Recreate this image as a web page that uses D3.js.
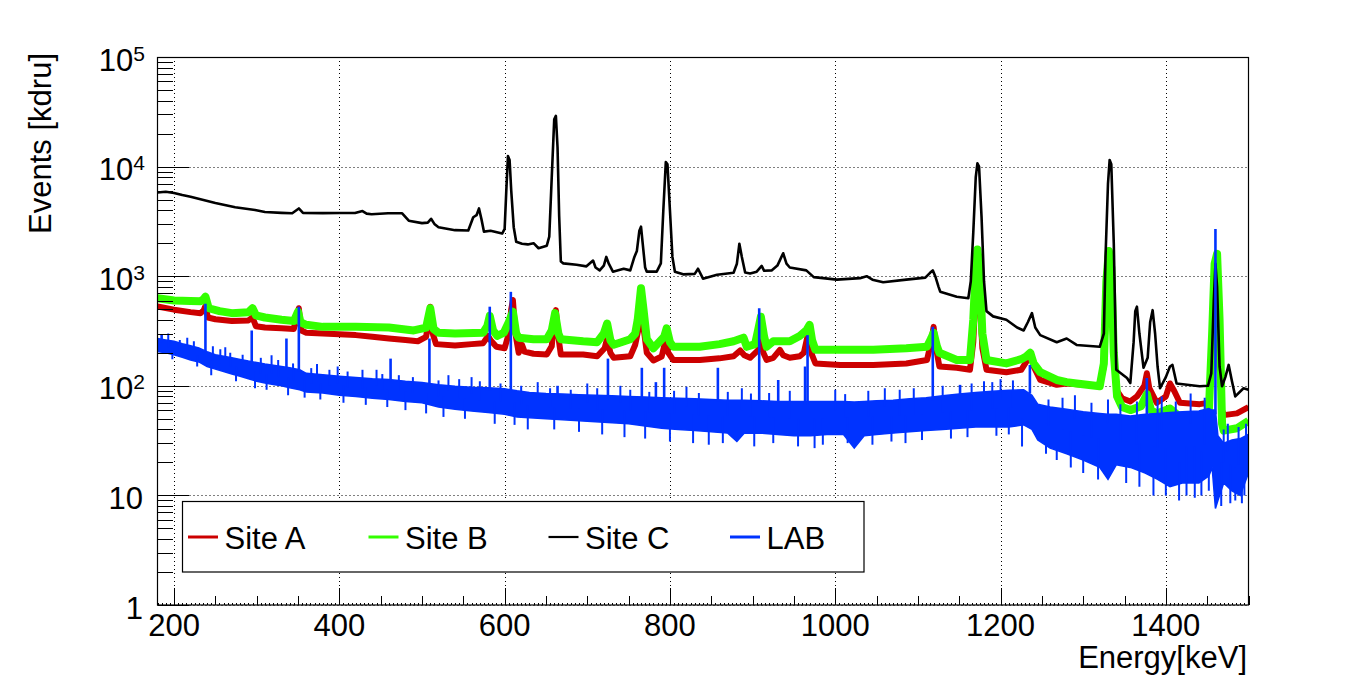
<!DOCTYPE html>
<html><head><meta charset="utf-8">
<script src="https://cdn.jsdelivr.net/npm/d3@7"></script>
<style>body{margin:0;background:#fff} text{font-family:"Liberation Sans",Arial,Helvetica,sans-serif;fill:#000}</style>
</head><body><svg id="c" width="1364" height="686"></svg>
<script>
// ---------------- data ----------------
const seriesNames = ["Site A", "Site B", "Site C", "LAB"];
const xTickValues = [200, 400, 600, 800, 1000, 1200, 1400];
const yTickExponents = [0, 1, 2, 3, 4, 5];
const xTitle = "Energy[keV]";
const yTitle = "Events [kdru]";

// Site A: [energy keV, events]
const siteA = [[180,530],[200,495],[220,470],[232,460],[236,490],[238,535],[241,420],[250,405],[270,390],[290,395],[295,420],[299,350],[310,340],[330,335],[345,330],[348,420],[351,510],[354,320],[360,305],[380,300],[400,295],[420,290],[440,280],[460,270],[480,262],[495,255],[505,280],[508,400],[510,527],[513,300],[517,240],[540,233],[560,240],[574,245],[580,285],[583,260],[590,227],[600,220],[605,300],[608,500],[610,607],[613,300],[617,200],[621,237],[624,205],[635,196],[651,193],[657,230],[660,400],[662,490],[665,280],[668,193],[695,193],[712,186],[721,220],[724,270],[728,200],[732,180],[752,186],[758,237],[762,330],[766,435],[769,300],[772,200],[780,170],[790,185],[795,266],[798,200],[804,172],[836,172],[860,178],[877,186],[885,210],[890,190],[897,180],[907,213],[910,319],[913,200],[917,172],[925,180],[933,213],[937,190],[945,180],[957,186],[962,200],[968,319],[972,190],[976,160],[1006,155],[1046,155],[1086,160],[1111,172],[1116,250],[1119,345],[1122,220],[1126,150],[1147,146],[1163,140],[1167,250],[1170,700],[1172,1000],[1175,600],[1178,220],[1183,140],[1207,133],[1225,140],[1232,170],[1236,200],[1240,150],[1248,113],[1268,102],[1280,105],[1320,100],[1325,150],[1328,600],[1331,1000],[1334,700],[1337,200],[1341,90],[1347,77],[1357,72],[1365,80],[1374,100],[1377,130],[1380,95],[1389,70],[1400,80],[1405,105],[1410,90],[1417,70],[1441,68],[1452,70],[1456,200],[1459,1100],[1462,900],[1465,150],[1468,60],[1470,54],[1486,56],[1500,64]];

// Site B: [energy keV, events]
const siteB = [[180,630],[200,600],[220,595],[232,590],[236,620],[238,650],[242,510],[255,480],[270,460],[290,470],[295,510],[299,440],[310,420],[330,400],[345,390],[350,475],[353,380],[360,360],[380,345],[420,345],[460,340],[490,320],[505,340],[510,510],[514,330],[520,305],[540,300],[574,305],[579,350],[582,435],[586,320],[591,285],[599,305],[605,380],[610,475],[614,300],[617,275],[635,266],[651,266],[657,320],[661,460],[665,300],[668,266],[695,255],[712,250],[720,300],[724,370],[728,260],[732,237],[752,266],[758,300],[761,400],[765,776],[768,500],[772,266],[780,220],[793,280],[796,335],[800,250],[804,227],[836,227],[860,240],[877,255],[889,275],[893,227],[903,240],[907,330],[910,427],[914,280],[917,227],[925,255],[945,255],[957,285],[965,320],[969,360],[972,260],[976,213],[1006,213],[1046,213],[1086,220],[1111,227],[1116,270],[1119,305],[1123,230],[1126,200],[1147,172],[1163,172],[1167,400],[1170,1200],[1172,1750],[1175,1100],[1178,300],[1183,172],[1207,160],[1225,175],[1231,185],[1236,200],[1240,160],[1248,133],[1268,113],[1280,108],[1292,105],[1320,99],[1325,160],[1328,900],[1331,1700],[1334,1200],[1337,200],[1341,80],[1347,64],[1357,60],[1370,65],[1377,84],[1382,60],[1389,56],[1405,62],[1417,52],[1441,54],[1452,58],[1456,300],[1459,1300],[1462,1600],[1465,400],[1468,45],[1470,39],[1486,41],[1500,48]];

// Site C: [energy keV, events]
const siteC = [[180,5800],[190,5900],[200,5750],[210,5500],[220,5300],[238,4900],[250,4650],[274,4250],[298,4020],[310,3850],[330,3780],[343,3750],[351,4150],[356,3780],[380,3760],[400,3770],[419,3770],[428,3930],[433,3720],[439,3680],[459,3750],[476,3750],[484,3210],[500,3050],[507,3080],[511,3340],[515,3000],[520,2800],[540,2630],[556,2610],[562,3450],[566,3600],[569,4150],[572,3300],[575,2550],[583,2600],[597,2450],[600,2700],[602,6000],[604,12500],[606,11500],[608,6000],[611,2800],[614,2065],[621,1980],[628,1950],[635,2000],[641,1800],[651,1900],[654,2300],[657,8000],[660,27000],[662,29000],[664,15000],[666,3500],[668,1360],[671,1310],[687,1270],[699,1230],[707,1390],[710,1200],[715,1130],[720,1250],[723,1500],[726,1300],[731,1100],[744,1170],[752,1130],[757,1500],[760,1700],[763,2600],[765,2830],[767,2000],[770,1200],[772,1100],[784,1100],[789,1310],[792,4000],[795,11000],[797,10500],[800,4000],[803,1500],[806,1100],[816,1040],[830,1050],[834,1170],[840,950],[857,1030],[877,1075],[881,1300],[884,1980],[887,1500],[891,1080],[897,1060],[905,1100],[911,1240],[914,1120],[923,1130],[930,1250],[937,1620],[941,1300],[945,1200],[965,1130],[974,980],[1002,930],[1030,960],[1038,1000],[1045,930],[1058,880],[1086,930],[1109,970],[1115,1080],[1118,1130],[1121,1000],[1125,800],[1127,722],[1147,650],[1161,630],[1164,900],[1167,2500],[1170,8000],[1172,10700],[1174,10000],[1177,3500],[1180,900],[1183,480],[1191,430],[1207,400],[1220,340],[1228,320],[1233,380],[1238,460],[1242,340],[1248,290],[1268,250],[1280,270],[1292,236],[1320,227],[1325,300],[1327,1500],[1330,7000],[1332,11500],[1334,10500],[1337,2000],[1340,140],[1353,118],[1357,106],[1361,250],[1363,480],[1365,527],[1368,300],[1373,146],[1378,180],[1381,380],[1384,490],[1387,300],[1390,150],[1393,95],[1400,120],[1405,150],[1408,155],[1413,105],[1441,99],[1451,100],[1455,130],[1458,600],[1460,1300],[1462,800],[1465,150],[1468,99],[1472,120],[1476,155],[1480,110],[1484,80],[1494,95],[1500,92]];

// LAB noise band: [energy keV, low, high]
const labBand = [[180,205,270],[190,200,262],[200,192,255],[210,182,242],[220,172,232],[230,165,222],[240,150,205],[250,142,192],[260,135,186],[270,128,180],[280,122,174],[290,116,168],[300,110,163],[310,106,158],[320,103,154],[330,100,150],[340,96,146],[352,92,140],[360,88,130],[380,86,126],[400,82,122],[420,80,119],[440,77,116],[460,75,114],[480,72,110],[500,70,107],[520,64,102],[540,61,99],[560,59,97],[580,57,96],[600,55,94],[615,52,90],[630,51,87],[650,50,85],[670,49,84],[690,48,83],[710,47,82],[730,46,81],[750,45,80],[770,43,79],[790,41,78],[810,40,77],[830,39,76],[850,38,75],[870,37,74],[881,31,74],[890,37,74],[910,37,73],[930,36,72],[950,35,72],[970,35,72],[990,36,72],[1010,36,72],[1023,27,71],[1035,35,72],[1050,36,73],[1070,37,74],[1090,38,76],[1110,39,78],[1130,40,81],[1150,41,84],[1170,42,87],[1190,42,89],[1210,42,91],[1228,44,92],[1238,40,82],[1245,32,68],[1260,27,64],[1280,24,61],[1300,21,58],[1320,18,56],[1330,14,55],[1340,19,55],[1357,18,53],[1375,16,55],[1390,14,56],[1405,12,57],[1420,13,58],[1440,13,59],[1452,15,62],[1456,18,60],[1460,7.6,60],[1463,9,35],[1470,13,30],[1480,11,32],[1490,10,33],[1500,16,36]];

// LAB narrow lines: [energy keV, bottom, top]
const labSpikes = [[185,250,290],[238,200,560],[294,160,320],[336,140,270],[351,135,527],[462,110,177],[509,105,270],[582,90,527],[607.5,90,720],[664,80,100],[725,78,177],[766,76,146],[783,76,108],[793,75,146],[858,72,146],[908,70,510],[931,70,113],[963.5,68,150],[966.5,68,290],[1118,74,345],[1151,78,102],[1235.5,85,155],[1377,50,118],[1460,55,2700]];

// LAB bin-to-bin fluctuations beyond the band: [energy keV, bottom, top]
const labFluct = [[193,225,300],[198,175,220],[207,210,262],[216,215,275],[224,195,255],[228,150,190],[245,125,170],[247,170,230],[256,160,215],[262,165,225],[268,150,200],[275,110,150],[283,140,192],[298,95,135],[305,130,180],[312,92,130],[318,130,190],[326,120,172],[338,82,118],[344,112,160],[358,78,112],[366,105,145],[373,110,158],[377,75,105],[388,100,140],[398,105,150],[405,70,100],[410,97,135],[428,95,140],[432,67,96],[445,100,140],[452,92,128],[458,64,92],[472,88,125],[480,60,88],[489,86,120],[505,56,86],[520,80,112],[526,52,80],[532,90,125],[545,77,115],[552,50,77],[560,85,120],[570,73,110],[588,45,72],[595,72,105],[612,44,70],[620,68,100],[628,40,66],[640,75,108],[655,64,95],[660,40,64],[680,62,92],[690,38,62],[700,70,105],[712,61,95],[718,36,61],[740,70,100],[745,34,59],[752,59,92],[770,33,58],[775,57,88],[800,31,56],[805,55,90],[820,65,98],[828,30,55],[835,54,86],[847,29,54],[864,30,53],[870,53,88],[887,60,95],[898,52,85],[902,28,52],[920,51,86],[925,30,51],[945,50,90],[955,28,50],[975,27,50],[985,29,50],[1000,60,92],[1012,51,84],[1015,30,51],[1040,52,90],[1045,29,52],[1060,65,95],[1068,31,53],[1078,54,92],[1085,30,54],[1095,55,95],[1105,32,55],[1130,57,100],[1140,33,58],[1160,34,60],[1165,60,105],[1180,75,110],[1190,62,108],[1195,35,62],[1200,75,115],[1210,36,63],[1215,63,112],[1226,28,50],[1255,24,45],[1258,43,75],[1268,21,42],[1275,40,78],[1285,18,38],[1290,50,82],[1300,16,35],[1310,34,70],[1318,14,33],[1330,45,75],[1345,30,68],[1352,13,31],[1365,29,72],[1368,12,30],[1385,10,28],[1390,27,75],[1395,40,80],[1400,10,27],[1412,27,72],[1416,9,20],[1425,10,28],[1430,45,85],[1435,9.5,28],[1443,10,25],[1447,29,78],[1452,11,30],[1467,8,20],[1470,20,40],[1475,25,45],[1478,8.5,19],[1484,9,18],[1488,19,42],[1492,8.5,18],[1495,10,22],[1497,20,45]];

// ---------------- drawing ----------------
const W = 1364, H = 686;
const L = 157.5, R = 1248.5, T = 57, B = 605;
const svg = d3.select("#c");
svg.append("rect").attr("width", W).attr("height", H).attr("fill", "#fff");

const x = d3.scaleLinear().domain([180, 1500]).range([L, R]);
const y = d3.scaleLog().domain([1, 1e5]).range([B, T]);
const cx = v => Math.round(x(v)) + 0.5;
const cy = v => Math.round(y(v)) + 0.5;

const colors = { "Site A": "#cc0000", "Site B": "#33ff00", "Site C": "#000000", "LAB": "#0033ff" };

// grid
const grid = svg.append("g").attr("stroke", "#000").attr("stroke-width", 1).attr("stroke-dasharray", "1,3");
grid.selectAll("line.gx").data(xTickValues).join("line").attr("class", "gx")
  .attr("x1", d => cx(d)).attr("x2", d => cx(d)).attr("y1", T).attr("y2", B);
grid.selectAll("line.gy").data(yTickExponents.map(e => Math.pow(10, e))).join("line").attr("class", "gy")
  .attr("x1", L).attr("x2", R).attr("y1", d => cy(d)).attr("y2", d => cy(d));

// data
svg.append("defs").append("clipPath").attr("id", "clip")
  .append("rect").attr("x", L).attr("y", T).attr("width", R - L).attr("height", B - T);
const plot = svg.append("g").attr("clip-path", "url(#clip)");

const line = d3.line().x(d => x(d[0])).y(d => y(d[1]));
plot.append("path").datum(siteA).attr("d", line).attr("fill", "none")
  .attr("stroke", colors["Site A"]).attr("stroke-width", 6).attr("stroke-linejoin", "round");
plot.append("path").datum(siteB).attr("d", line).attr("fill", "none")
  .attr("stroke", colors["Site B"]).attr("stroke-width", 8).attr("stroke-linejoin", "round");
plot.append("path").datum(siteC).attr("d", line).attr("fill", "none")
  .attr("stroke", colors["Site C"]).attr("stroke-width", 2.6).attr("stroke-linejoin", "round");

const band = d3.area().x(d => x(d[0])).y0(d => y(d[1])).y1(d => y(d[2]));
plot.append("path").datum(labBand).attr("d", band)
  .attr("fill", colors["LAB"]).attr("stroke", colors["LAB"]).attr("stroke-width", 1.5);
plot.append("g").selectAll("line").data(labFluct).join("line")
  .attr("x1", d => x(d[0])).attr("x2", d => x(d[0]))
  .attr("y1", d => y(d[1])).attr("y2", d => y(d[2]))
  .attr("stroke", colors["LAB"]).attr("stroke-width", 2);
plot.append("g").selectAll("line").data(labSpikes).join("line")
  .attr("x1", d => x(d[0])).attr("x2", d => x(d[0]))
  .attr("y1", d => y(d[1])).attr("y2", d => y(d[2]))
  .attr("stroke", colors["LAB"]).attr("stroke-width", 2.6);

// frame
svg.append("rect").attr("x", L).attr("y", T + 0.5).attr("width", R - L).attr("height", B - T - 0.5)
  .attr("fill", "none").attr("stroke", "#000").attr("stroke-width", 1.2);

// x ticks
const axes = svg.append("g").attr("stroke", "#000").attr("stroke-width", 1).attr("shape-rendering", "crispEdges");
const xt = d3.range(180, 1500.1, 5);
axes.selectAll("line.xt").data(xt).join("line").attr("class", "xt")
  .attr("x1", d => cx(d)).attr("x2", d => cx(d)).attr("y1", B)
  .attr("y2", d => B - (d % 200 === 0 ? 17 : d % 50 === 0 ? 9 : 2));
// y ticks
const ymaj = yTickExponents.map(e => Math.pow(10, e));
const ymin = [];
yTickExponents.slice(0, -1).forEach(e => { for (let k = 2; k <= 9; k++) ymin.push(k * Math.pow(10, e)); });
axes.selectAll("line.ym").data(ymaj).join("line").attr("class", "ym")
  .attr("x1", L).attr("x2", L + 31).attr("y1", d => cy(d)).attr("y2", d => cy(d));
axes.selectAll("line.yn").data(ymin).join("line").attr("class", "yn")
  .attr("x1", L).attr("x2", L + 15).attr("y1", d => cy(d)).attr("y2", d => cy(d));

// tick labels
svg.append("g").selectAll("text").data(xTickValues).join("text")
  .attr("x", d => x(d)).attr("y", 636).attr("text-anchor", "middle").attr("font-size", 31).text(d => d);
const yl = svg.append("g").selectAll("text").data(yTickExponents).join("text")
  .attr("x", 145).attr("y", e => y(Math.pow(10, e)) + 13.5).attr("text-anchor", "end").attr("font-size", 31);
yl.each(function (e) {
  const t = d3.select(this);
  if (e === 0) t.attr("x", 143).text("1");
  else if (e === 1) t.attr("x", 143).text("10");
  else {
    t.append("tspan").text("10");
    t.append("tspan").attr("font-size", 21).attr("dy", -10).text(e);
  }
});

// axis titles
svg.append("text").attr("x", 1247).attr("y", 668).attr("text-anchor", "end").attr("font-size", 31).text(xTitle);
svg.append("text").attr("transform", "translate(51,53) rotate(-90)").attr("text-anchor", "end")
  .attr("font-size", 31).text(yTitle);

// legend
const lg = svg.append("g");
lg.append("rect").attr("x", 182.5).attr("y", 501.5).attr("width", 681.5).attr("height", 70.5)
  .attr("fill", "#fff").attr("stroke", "#000").attr("stroke-width", 1.2);
const legX = [188, 368.5, 548.5, 730];
const legW = { "Site A": 3, "Site B": 3, "Site C": 2.2, "LAB": 3 };
seriesNames.forEach((n, i) => {
  lg.append("line").attr("x1", legX[i]).attr("x2", legX[i] + 30).attr("y1", 537).attr("y2", 537)
    .attr("stroke", colors[n]).attr("stroke-width", legW[n]);
  lg.append("text").attr("x", legX[i] + 36.5).attr("y", 548.5).attr("font-size", 31).text(n);
});
</script></body></html>
